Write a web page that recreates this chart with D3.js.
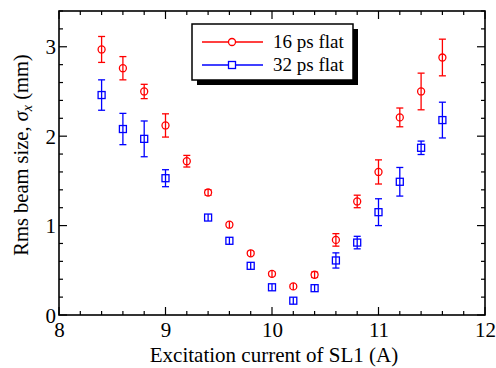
<!DOCTYPE html>
<html><head><meta charset="utf-8">
<script src="https://cdn.jsdelivr.net/npm/d3@7"></script>
<style>body{margin:0;background:#fff}svg{display:block}text{font-family:"Liberation Serif","Times New Roman",serif;fill:#000}</style>
</head><body><svg id="c" width="496" height="368"></svg>
<script>
const xTicks = [8, 9, 10, 11, 12];
const yTicks = [0, 1, 2, 3];
const seriesNames = ["16 ps flat", "32 ps flat"];
const redX = [8.4, 8.6, 8.8, 9.0, 9.2, 9.4, 9.6, 9.8, 10.0, 10.2, 10.4, 10.6, 10.8, 11.0, 11.2, 11.4, 11.6];
const redY = [2.97, 2.76, 2.50, 2.12, 1.72, 1.37, 1.01, 0.69, 0.46, 0.32, 0.45, 0.84, 1.27, 1.60, 2.21, 2.50, 2.88];
const redErr = [0.145, 0.13, 0.08, 0.13, 0.065, 0.03, 0.02, 0.02, 0.02, 0.02, 0.03, 0.07, 0.07, 0.135, 0.105, 0.205, 0.205];
const blueX = [8.4, 8.6, 8.8, 9.0, 9.4, 9.6, 9.8, 10.0, 10.2, 10.4, 10.6, 10.8, 11.0, 11.2, 11.4, 11.6];
const blueY = [2.46, 2.08, 1.97, 1.53, 1.09, 0.83, 0.55, 0.31, 0.16, 0.30, 0.61, 0.81, 1.15, 1.49, 1.87, 2.18];
const blueErr = [0.17, 0.175, 0.2, 0.095, 0.03, 0.03, 0.02, 0.02, 0.02, 0.02, 0.085, 0.07, 0.15, 0.16, 0.075, 0.2];

const FONT = "Liberation Serif, Times New Roman, serif";
const svg = d3.select("#c");
const L = 59, R = 485, T = 11, B = 315;
const x = d3.scaleLinear().domain([8, 12]).range([L, R]);
const y = d3.scaleLinear().domain([0, 3.4]).range([B, T]);
const red = "#ff0000", blue = "#0000ff";

// minor/major ticks
const xMinor = d3.range(8, 12.001, 0.2).map(v => +v.toFixed(1));
const yMinor = d3.range(0, 3.401, 0.2).map(v => +v.toFixed(1));
const isMajor = v => Math.abs(v - Math.round(v)) < 1e-6;
const tg = svg.append("g").attr("stroke", "#000").attr("stroke-width", 1.2);
xMinor.forEach(v => {
  const len = isMajor(v) ? 8 : 4;
  tg.append("line").attr("x1", x(v)).attr("x2", x(v)).attr("y1", B).attr("y2", B - len);
  tg.append("line").attr("x1", x(v)).attr("x2", x(v)).attr("y1", T).attr("y2", T + len);
});
yMinor.forEach(v => {
  const len = isMajor(v) ? 8 : 4;
  tg.append("line").attr("y1", y(v)).attr("y2", y(v)).attr("x1", L).attr("x2", L + len);
  tg.append("line").attr("y1", y(v)).attr("y2", y(v)).attr("x1", R).attr("x2", R - len);
});
svg.append("rect").attr("x", L).attr("y", T).attr("width", R - L).attr("height", B - T)
  .attr("fill", "none").attr("stroke", "#000").attr("stroke-width", 1.6);

// tick labels via axes (lines hidden)
const xa = svg.append("g").attr("transform", `translate(0,${B})`)
  .call(d3.axisBottom(x).tickValues(xTicks).tickSize(0).tickFormat(d3.format("d")));
xa.attr("font-family", FONT).attr("font-size", 21);
xa.select(".domain").remove();
xa.selectAll("text").attr("y", 22).attr("dy", 0).attr("fill", "#000");
const ya = svg.append("g").attr("transform", `translate(${L},0)`)
  .call(d3.axisLeft(y).tickValues(yTicks).tickSize(0).tickFormat(d3.format("d")));
ya.attr("font-family", FONT).attr("font-size", 21);
ya.select(".domain").remove();
ya.selectAll("text").attr("x", -3).attr("dy", "0.34em").attr("fill", "#000");

// axis titles
svg.append("text").attr("x", 274).attr("y", 362).attr("text-anchor", "middle")
  .attr("font-family", FONT).attr("font-size", 21).text("Excitation current of SL1 (A)");
const yl = svg.append("text").attr("transform", `translate(28,155) rotate(-90)`)
  .attr("text-anchor", "middle").attr("font-family", FONT).attr("font-size", 20.5);
yl.append("tspan").text("Rms beam size, ");
yl.append("tspan").attr("font-style", "italic").text("σ");
yl.append("tspan").attr("font-style", "italic").attr("font-size", 14).attr("dy", 4).text("x");
yl.append("tspan").attr("dy", -4).text(" (mm)");

function drawSeries(xs, ys, es, color, shape) {
  const g = svg.append("g").attr("stroke", color).attr("fill", "none").attr("stroke-width", 1.3);
  xs.forEach((xv, i) => {
    const cx = x(xv), cy = y(ys[i]), y1 = y(ys[i] + es[i]), y2 = y(ys[i] - es[i]);
    g.append("line").attr("x1", cx).attr("x2", cx).attr("y1", y1).attr("y2", y2);
    g.append("line").attr("x1", cx - 3.5).attr("x2", cx + 3.5).attr("y1", y1).attr("y2", y1);
    g.append("line").attr("x1", cx - 3.5).attr("x2", cx + 3.5).attr("y1", y2).attr("y2", y2);
    if (shape === "circle") g.append("circle").attr("cx", cx).attr("cy", cy).attr("r", 3.5).attr("fill", "#fff");
    else g.append("rect").attr("x", cx - 3.5).attr("y", cy - 3.5).attr("width", 7).attr("height", 7).attr("fill", "#fff");
    g.append("line").attr("x1", cx).attr("x2", cx).attr("y1", cy - 3.5).attr("y2", cy + 3.5);
  });
}
drawSeries(redX, redY, redErr, red, "circle");
drawSeries(blueX, blueY, blueErr, blue, "square");

// legend
const lg = svg.append("g");
lg.append("rect").attr("x", 197).attr("y", 29).attr("width", 161).attr("height", 56).attr("fill", "#000");
lg.append("rect").attr("x", 192).attr("y", 24).attr("width", 161).attr("height", 56)
  .attr("fill", "#fff").attr("stroke", "#000").attr("stroke-width", 1.5);
[[red, "circle", 42, seriesNames[0]], [blue, "square", 65, seriesNames[1]]].forEach(([c, s, ly, name]) => {
  lg.append("line").attr("x1", 202).attr("x2", 263).attr("y1", ly).attr("y2", ly).attr("stroke", c).attr("stroke-width", 1.5);
  if (s === "circle") lg.append("circle").attr("cx", 232).attr("cy", ly).attr("r", 3.5).attr("fill", "#fff").attr("stroke", c).attr("stroke-width", 1.3);
  else lg.append("rect").attr("x", 228.5).attr("y", ly - 3.5).attr("width", 7).attr("height", 7).attr("fill", "#fff").attr("stroke", c).attr("stroke-width", 1.3);
  lg.append("text").attr("x", 273).attr("y", ly + 6).attr("font-family", FONT).attr("font-size", 19).text(name);
});
</script></body></html>
